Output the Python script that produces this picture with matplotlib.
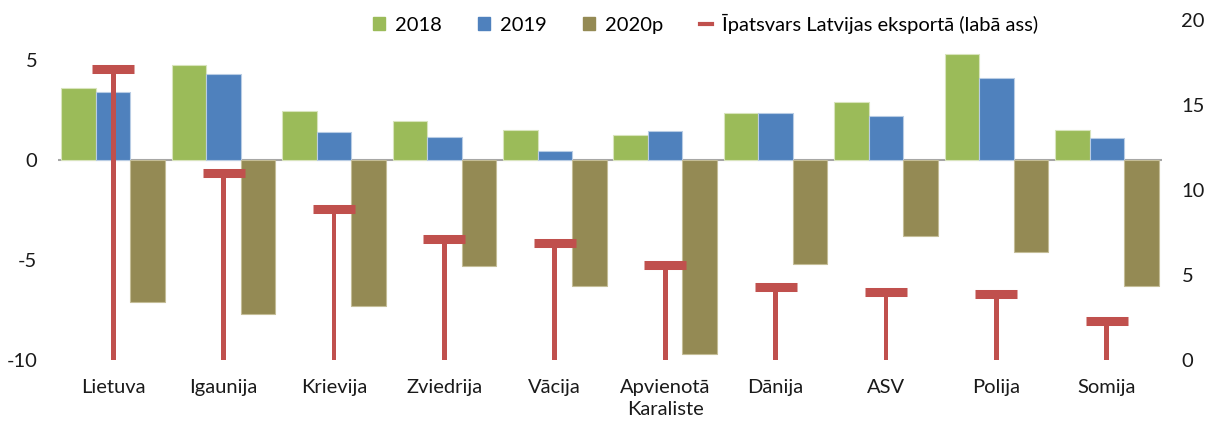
import numpy as np
import matplotlib.pyplot as plt
from matplotlib.lines import Line2D
from matplotlib.patches import Patch

plt.rcParams['font.family'] = ['Lato', 'DejaVu Sans']
plt.rcParams['axes.unicode_minus'] = False

countries = ['Lietuva', 'Igaunija', 'Krievija', 'Zviedrija', 'Vācija',
             'Apvienotā\nKaraliste', 'Dānija', 'ASV', 'Polija', 'Somija']
v2018 = [3.6, 4.75, 2.45, 1.95, 1.5, 1.25, 2.35, 2.9, 5.3, 1.5]
v2019 = [3.4, 4.3, 1.4, 1.15, 0.45, 1.45, 2.35, 2.2, 4.1, 1.1]
v2020 = [-7.1, -7.7, -7.3, -5.3, -6.3, -9.7, -5.2, -3.8, -4.6, -6.3]
share = [17.1, 11.0, 8.9, 7.1, 6.9, 5.6, 4.3, 4.0, 3.9, 2.3]

c18 = '#9BBB59'
c19 = '#4F81BD'
c20 = '#948A54'
cred = '#C0504D'
fs = 14.5

dpi = 100
fig = plt.figure(figsize=(1206 / dpi, 423 / dpi), dpi=dpi)
ax = fig.add_axes([58 / 1206, 1 - 360 / 423, (1162 - 58) / 1206, 340 / 423])
ax2 = ax.twinx()

x = np.arange(len(countries))
w = 0.313
ax.bar(x - w, v2018, w, color=c18, edgecolor='#D8E4BC', linewidth=0.8)
ax.bar(x, v2019, w, color=c19, edgecolor='#B8CCE4', linewidth=0.8)
ax.bar(x + w, v2020, w, color=c20, edgecolor='#C4BD97', linewidth=0.8)
ax.axhline(0, color='#A6A6A6', lw=1.5, zorder=0.5)

ax.set_xlim(-0.5, len(countries) - 0.5)
ax.set_ylim(-10, 7)
ax.set_yticks([-10, -5, 0, 5])
ax.set_xticks(x)
ax.set_xticklabels(countries, fontsize=fs, color='#1a1a1a', linespacing=1.3)
ax.tick_params(axis='x', length=0, pad=14)
ax.tick_params(axis='y', length=0, pad=15, labelsize=fs, labelcolor='#1a1a1a')

# red T markers on the right axis
ax2.bar(x, share, 0.045, color=cred, linewidth=0)
ax2.hlines(share, x - 0.19, x + 0.19, colors=cred, lw=6.5)
ax2.set_ylim(0, 20)
ax2.set_yticks([0, 5, 10, 15, 20])
ax2.tick_params(axis='y', length=0, pad=14, labelsize=fs, labelcolor='#1a1a1a')

for a in (ax, ax2):
    for s in a.spines.values():
        s.set_visible(False)

handles = [Patch(color=c18), Patch(color=c19), Patch(color=c20),
           Line2D([0], [0], color=cred, lw=3)]
labels = ['2018', '2019', '2020p', 'Īpatsvars Latvijas eksportā (labā ass)']
fig.legend(handles, labels, loc='upper center', bbox_to_anchor=(0.585, 1.01),
           ncol=4, frameon=False, fontsize=fs, handlelength=0.6,
           handleheight=0.6, handletextpad=0.5, columnspacing=1.8)

fig.savefig('out.png', dpi=dpi)
